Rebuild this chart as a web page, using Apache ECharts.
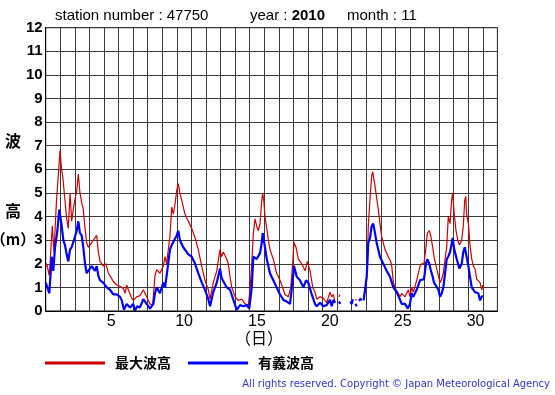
<!DOCTYPE html>
<html><head><meta charset="utf-8">
<script src="https://cdn.jsdelivr.net/npm/echarts@6.0.0/dist/echarts.min.js"></script>
<style>html,body{margin:0;padding:0;background:#fff}#c{width:555px;height:395px}</style>
</head><body><div id="c"></div>
<script>
// ---- data (time in days since Nov 1 00:00, wave height in m) ----
const stationNumber = '47750';
const year = '2010';
const month = '11';
const dayLabels = ['','','','','5','','','','','10','','','','','15','','','','','20','','','','','25','','','','','30',''];
const seriesNames = ['最大波高', '有義波高'];

const maxWaveHeight = [
[0.00,1.9],[0.07,2.0],[0.25,1.5],[0.45,3.6],[0.57,2.5],[0.75,4.8],[0.85,5.6],[0.98,6.8],[1.09,6.0],[1.17,5.7],
[1.32,4.7],[1.44,3.9],[1.55,3.5],[1.67,5.0],[1.78,3.8],[1.94,4.5],[2.13,5.1],[2.24,5.8],[2.35,5.0],[2.47,4.6],
[2.58,4.3],[2.70,3.5],[2.81,2.9],[2.92,2.7],[3.05,2.8],[3.16,2.9],[3.38,3.1],[3.50,3.2],[3.61,2.5],[3.73,2.1],
[3.95,1.9],[4.14,2.0],[4.30,1.6],[4.41,1.5],[4.64,1.25],[4.87,1.1],[5.10,1.05],[5.33,0.95],[5.45,0.75],[5.56,1.1],
[5.67,0.9],[5.90,0.55],[6.01,0.45],[6.25,0.6],[6.47,0.65],[6.70,0.9],[6.93,0.6],[7.16,0.3],[7.34,0.25],[7.50,1.5],
[7.62,1.75],[7.84,1.6],[8.07,1.9],[8.19,2.3],[8.30,2.0],[8.53,3.2],[8.65,4.4],[8.76,4.1],[8.87,4.5],[8.99,5.1],
[9.10,5.4],[9.21,5.0],[9.33,4.7],[9.56,4.1],[9.79,3.8],[10.02,3.5],[10.25,3.1],[10.47,2.6],[10.71,1.9],[10.93,1.3],
[11.16,0.9],[11.28,0.5],[11.50,1.2],[11.74,1.7],[11.96,2.6],[12.07,2.3],[12.19,2.5],[12.42,2.2],[12.53,2.0],[12.65,1.45],
[12.77,1.0],[13.00,0.6],[13.22,0.45],[13.45,0.5],[13.68,0.3],[13.91,0.25],[14.02,0.9],[14.14,2.0],[14.25,3.3],[14.37,3.9],
[14.48,3.6],[14.59,3.4],[14.71,3.7],[14.83,4.7],[14.89,5.0],[14.98,4.6],[15.05,4.0],[15.17,3.5],[15.28,3.0],[15.39,2.6],
[15.62,2.2],[15.85,1.6],[16.08,1.3],[16.31,0.9],[16.42,0.7],[16.65,0.6],[16.82,1.0],[16.95,2.0],[17.04,2.9],[17.18,2.7],
[17.34,2.2],[17.57,2.0],[17.80,1.7],[17.96,2.1],[18.14,1.7],[18.33,1.0],[18.48,0.8],[18.60,0.5],[18.83,0.6],[19.05,0.55],
[19.28,0.35],[19.51,0.8],[19.63,0.6],[19.74,0.7],[19.86,0.35],[19.95,null],[20.12,0.6],[20.20,0.7],[20.28,null],
[21.25,0.5],[21.35,0.45],[21.42,null],[21.50,0.5],[21.65,0.55],[21.72,null],[21.80,0.6],[21.90,0.75],[21.98,0.8],
[22.07,1.7],[22.14,3.6],[22.26,4.8],[22.37,5.7],[22.44,5.9],[22.60,5.3],[22.71,4.8],[22.83,4.3],[22.94,3.7],[23.06,3.15],
[23.29,2.6],[23.51,2.3],[23.68,2.1],[23.75,1.9],[23.86,1.2],[24.04,0.9],[24.20,0.75],[24.32,0.6],[24.43,0.75],[24.66,0.6],
[24.89,0.9],[25.00,0.6],[25.12,1.0],[25.23,0.8],[25.46,1.3],[25.69,1.9],[25.80,2.0],[25.96,2.0],[26.10,2.7],[26.19,3.3],
[26.33,3.4],[26.42,3.2],[26.56,2.7],[26.65,2.3],[26.79,1.9],[26.95,1.5],[27.06,1.2],[27.18,1.35],[27.29,1.6],[27.41,2.2],
[27.52,2.7],[27.63,4.0],[27.75,3.7],[27.86,4.7],[27.93,5.0],[28.04,4.1],[28.16,3.4],[28.28,3.0],[28.39,2.8],[28.55,3.0],
[28.66,3.6],[28.76,4.7],[28.83,4.85],[28.89,4.1],[29.01,3.7],[29.12,2.8],[29.24,2.2],[29.35,1.9],[29.46,1.8],[29.58,1.35],
[29.69,1.35],[29.81,1.2],[29.92,0.9],[30.00,1.1]
];

const significantWaveHeight = [
[0.00,1.2],[0.07,1.25],[0.25,0.75],[0.41,2.3],[0.52,1.7],[0.64,2.7],[0.80,3.4],[0.93,4.3],[1.10,3.6],[1.21,3.0],
[1.32,2.8],[1.44,2.4],[1.55,2.1],[1.67,2.6],[1.78,2.7],[1.94,3.0],[2.13,3.4],[2.24,3.8],[2.35,3.3],[2.47,3.2],
[2.58,2.7],[2.70,2.0],[2.81,1.6],[2.92,1.7],[3.16,1.9],[3.38,1.7],[3.50,1.9],[3.61,1.5],[3.73,1.3],[3.95,1.2],
[4.19,1.0],[4.41,0.9],[4.64,0.7],[4.87,0.7],[5.10,0.6],[5.22,0.45],[5.37,0.05],[5.56,0.3],[5.79,0.15],[6.01,0.3],
[6.13,0.02],[6.29,0.2],[6.47,0.15],[6.70,0.5],[6.93,0.3],[7.16,0.1],[7.39,0.3],[7.50,0.75],[7.62,1.0],[7.84,0.75],
[8.07,1.2],[8.19,1.0],[8.30,1.5],[8.53,2.6],[8.65,2.8],[8.76,2.8],[8.99,3.2],[9.10,3.4],[9.21,3.0],[9.44,2.7],
[9.79,2.4],[10.02,2.3],[10.25,2.0],[10.47,1.6],[10.71,1.2],[10.93,0.9],[11.16,0.5],[11.28,0.2],[11.50,0.8],[11.74,1.2],
[11.96,1.8],[12.07,1.4],[12.19,1.45],[12.42,1.0],[12.65,0.9],[12.88,0.47],[13.11,0.05],[13.34,0.25],[13.56,0.2],[13.80,0.25],
[13.97,0.1],[14.14,1.0],[14.25,2.3],[14.48,2.2],[14.71,2.45],[14.83,2.9],[14.89,3.3],[15.05,2.7],[15.17,2.2],[15.39,1.6],
[15.62,1.3],[15.85,1.0],[16.08,0.7],[16.31,0.47],[16.54,0.4],[16.77,0.3],[16.95,1.3],[17.04,1.9],[17.23,1.45],[17.45,1.3],
[17.68,1.0],[17.87,1.3],[18.02,1.2],[18.26,0.7],[18.48,0.3],[18.60,0.2],[18.83,0.35],[19.05,0.2],[19.28,0.25],[19.51,0.47],
[19.63,0.2],[19.74,0.47],[19.86,0.35],[19.95,null],[20.12,0.4],[20.22,0.3],[20.28,null],[20.90,0.4],[21.00,0.3],[21.08,0.5],
[21.15,null],[21.25,0.3],[21.35,0.2],[21.42,null],[21.48,0.45],[21.60,0.4],[21.70,0.5],[21.76,null],[21.82,0.45],[21.92,0.5],
[22.03,1.45],[22.14,2.9],[22.26,3.1],[22.37,3.6],[22.48,3.7],[22.60,3.3],[22.71,2.9],[22.94,2.3],[23.17,2.0],[23.40,1.7],
[23.63,1.45],[23.86,1.0],[24.09,0.8],[24.32,0.47],[24.43,0.3],[24.66,0.3],[24.85,0.1],[25.00,0.3],[25.12,0.75],[25.23,0.6],
[25.46,0.9],[25.69,1.3],[25.96,1.35],[26.10,2.0],[26.19,2.2],[26.33,2.0],[26.42,1.75],[26.56,1.45],[26.65,1.2],[26.95,0.9],
[27.06,0.6],[27.18,0.75],[27.29,1.0],[27.41,1.6],[27.52,2.2],[27.63,2.3],[27.75,2.5],[27.86,2.85],[27.93,3.1],[28.04,2.6],
[28.21,2.2],[28.39,1.8],[28.55,2.0],[28.66,2.5],[28.76,2.7],[28.89,2.3],[29.01,1.9],[29.12,1.45],[29.24,1.0],[29.35,1.0],
[29.46,0.8],[29.69,0.75],[29.81,0.45],[29.92,0.6],[30.00,0.65]
];

const toSeriesData = arr => arr.map(p => [p[0], p[1] === null ? '-' : p[1]]);

const chart = echarts.init(document.getElementById('c'), null, {renderer: 'canvas'});
const FONT = '"Liberation Sans", Arial, sans-serif';
const CJK = '"Noto Sans CJK JP", sans-serif';

chart.setOption({
  animation: false,
  backgroundColor: '#fff',
  grid: {left: 45.7, right: 57.6, top: 27.7, bottom: 84, show: true, borderColor: '#000', borderWidth: 1, containLabel: false, outerBoundsMode: 'none'},
  xAxis: [
    {type: 'value', min: 0, max: 31, interval: 1,
     axisLabel: {show: false}, axisTick: {show: false},
     axisLine: {show: true, lineStyle: {color: '#000', width: 1}},
     splitLine: {show: true, lineStyle: {color: '#3a3a3a', width: 1}}},
    {type: 'category', data: dayLabels, position: 'bottom', boundaryGap: true,
     axisLine: {show: false}, axisTick: {show: false}, splitLine: {show: false},
     axisLabel: {interval: 0, fontSize: 16, color: '#000', fontFamily: FONT, margin: 3}}
  ],
  yAxis: {type: 'value', min: 0, max: 12, interval: 1,
    axisLabel: {fontSize: 15, fontWeight: 'bold', color: '#000', fontFamily: FONT, margin: 3},
    axisTick: {show: false},
    axisLine: {show: true, lineStyle: {color: '#000', width: 1}},
    splitLine: {show: true, lineStyle: {color: '#3a3a3a', width: 1}}},
  legend: {
    left: 45, top: 356, padding: 0, itemWidth: 60, itemHeight: 3, itemGap: 17, icon: 'rect',
    textStyle: {fontFamily: CJK, fontWeight: 'bold', fontSize: 14, color: '#000', padding: [0, 0, 0, 5]},
    data: seriesNames
  },
  series: [
    {name: seriesNames[0], type: 'line', xAxisIndex: 0, data: toSeriesData(maxWaveHeight), showSymbol: false, symbol: 'none',
     connectNulls: false, lineStyle: {color: '#cc0000', width: 1.2}, itemStyle: {color: '#cc0000'}, z: 2},
    {name: seriesNames[1], type: 'line', xAxisIndex: 0, data: toSeriesData(significantWaveHeight), showSymbol: false, symbol: 'none',
     connectNulls: false, lineStyle: {color: '#0000ff', width: 2.2}, itemStyle: {color: '#0000ff'}, z: 3}
  ],
  graphic: [
    {type: 'text', left: 55, top: 8, style: {text: 'station number : ' + stationNumber, font: '15px ' + FONT, fill: '#000'}},
    {type: 'text', left: 250, top: 8, style: {text: '{a|year : }{b|' + year + '}', rich: {a: {font: '15px ' + FONT, fill: '#000'}, b: {font: 'bold 15px ' + FONT, fill: '#000'}}}},
    {type: 'text', left: 347, top: 8, style: {text: 'month : ' + month, font: '15px ' + FONT, fill: '#000'}},
    {type: 'text', x: 13, y: 141, style: {text: '波', font: 'bold 16px ' + CJK, fill: '#000', align: 'center', verticalAlign: 'middle'}},
    {type: 'text', x: 13, y: 211, style: {text: '高', font: 'bold 16px ' + CJK, fill: '#000', align: 'center', verticalAlign: 'middle'}},
    {type: 'text', x: 13, y: 239, style: {text: '（m）', font: 'bold 15px ' + CJK, fill: '#000', align: 'center', verticalAlign: 'middle'}},
    {type: 'text', x: 259, y: 338, style: {text: '（日）', font: '16px ' + CJK, fill: '#000', align: 'center', verticalAlign: 'middle'}},
    {type: 'text', x: 550, y: 384, style: {text: 'All rights reserved. Copyright © Japan Meteorological Agency', font: '10px "DejaVu Sans", sans-serif', fill: '#3333cc', align: 'right', verticalAlign: 'middle'}}
  ]
});
</script>
</body></html>
